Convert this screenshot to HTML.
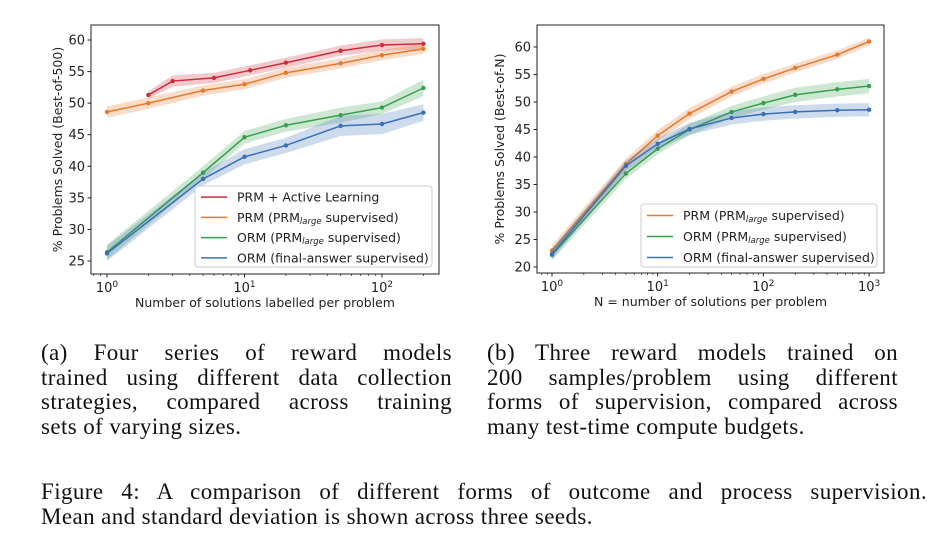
<!DOCTYPE html>
<html><head><meta charset="utf-8">
<style>
html,body{margin:0;padding:0;background:#fff;}
body{width:944px;height:548px;position:relative;overflow:hidden;font-family:"Liberation Serif",serif;}
svg{position:absolute;left:0;top:0;}
.cap{position:absolute;font-family:"Liberation Serif",serif;font-size:23px;letter-spacing:0.4px;color:#111;line-height:24.5px;}
.ln{text-align:justify;text-align-last:justify;white-space:nowrap;}
.ln.last{text-align-last:left;}
</style></head>
<body>
<svg id="chart" width="944" height="548" font-family="DejaVu Sans, sans-serif"></svg>
<div class="cap" style="left:41px;top:341px;width:411px;">
<div class="ln">(a) Four series of reward models</div>
<div class="ln">trained using different data collection</div>
<div class="ln">strategies, compared across training</div>
<div class="ln last">sets of varying sizes.</div>
</div>
<div class="cap" style="left:487px;top:341px;width:411px;">
<div class="ln">(b) Three reward models trained on</div>
<div class="ln">200 samples/problem using different</div>
<div class="ln">forms of supervision, compared across</div>
<div class="ln last">many test-time compute budgets.</div>
</div>
<div class="cap" style="left:41px;top:480px;width:886px;">
<div class="ln">Figure 4: A comparison of different forms of outcome and process supervision.</div>
<div class="ln last">Mean and standard deviation is shown across three seeds.</div>
</div>
<script>
// Left chart data
const leftX_AL = [2,3,6,11,20,50,100,200];
const leftY_AL = [51.3,53.5,54.0,55.2,56.4,58.3,59.2,59.4];
const leftX = [1,2,5,10,20,50,100,200];
const leftY_PRM = [48.6,50.0,52.0,53.0,54.8,56.3,57.6,58.6];
const leftX_ORM = [1,5,10,20,50,100,200];
const leftY_ORM = [26.4,39.0,44.6,46.5,48.1,49.3,52.4];
const leftY_FA = [26.2,38.0,41.5,43.3,46.4,46.7,48.5];
const leftSd_AL = [0.6,0.9,0.8,0.8,0.8,0.8,0.9,0.9];
const leftSd_PRM = [0.9,0.9,0.8,0.8,0.8,0.8,0.8,0.8];
const leftSd_ORM = [1.2,1.0,1.0,1.0,1.2,1.0,1.3];
const leftSd_FA = [1.2,1.0,1.2,1.2,1.6,1.6,1.3];
const leftYTicks = [25,30,35,40,45,50,55,60];
// Right chart data
const rightX = [1,5,10,20,50,100,200,500,1000];
const rightY_PRM = [23.0,38.7,43.9,47.9,51.9,54.2,56.2,58.6,61.0];
const rightY_ORM = [22.2,37.0,41.5,45.0,48.2,49.8,51.3,52.3,52.9];
const rightY_FA = [22.4,38.4,42.4,45.1,47.1,47.8,48.2,48.5,48.6];
const rightSd_PRM = [1.0,1.0,1.0,1.0,0.9,0.9,0.8,0.8,0.7];
const rightSd_ORM = [1.0,1.0,1.0,1.0,1.1,1.2,1.3,1.3,1.3];
const rightSd_FA = [1.0,1.0,1.0,1.1,1.2,1.2,1.2,1.2,1.2];
const rightYTicks = [20,25,30,35,40,45,50,55,60];

const C = {red:'#d02b3a',orange:'#e8792a',green:'#3a9e4f',blue:'#3a6fb8'};
const NS='http://www.w3.org/2000/svg';
const svg=document.getElementById('chart');
function el(tag,attrs,parent){const e=document.createElementNS(NS,tag);for(const k in attrs)e.setAttribute(k,attrs[k]);(parent||svg).appendChild(e);return e;}

function makeChart(cfg){
  const g=el('g',{});
  
  
  const sx=v=>cfg.x0px+Math.log10(v)*cfg.dec;
  const sy=v=>cfg.yRefPx-(v-cfg.yRef)*cfg.pxPerUnit;
  cfg.series.forEach(s=>{
    let up=s.x.map((x,i)=>sx(x)+','+sy(s.y[i]+s.sd[i]));
    let dn=s.x.map((x,i)=>sx(x)+','+sy(s.y[i]-s.sd[i])).reverse();
    const band=el('polygon',{points:up.concat(dn).join(' '),fill:s.color,'fill-opacity':0.25,stroke:'none'},g);
    
    
    const line=el('polyline',{points:s.x.map((x,i)=>sx(x)+','+sy(s.y[i])).join(' '),fill:'none',stroke:s.color,'stroke-width':1.5},g);
    
    
    s.x.forEach((x,i)=>{
      const p=el('circle',{cx:sx(x),cy:sy(s.y[i]),r:2.2,fill:s.color},g);
      
      
    });
  });
  const fr=el('rect',{x:cfg.L,y:cfg.T,width:cfg.R-cfg.L,height:cfg.B-cfg.T,fill:'none',stroke:'#222','stroke-width':1},g);
  
  
  cfg.yTicks.forEach(t=>{
    const y=sy(t);
    el('line',{x1:cfg.L-3.5,x2:cfg.L,y1:y,y2:y,stroke:'#222'},g);
    const tx=el('text',{x:cfg.L-6,y:y+4.5,'text-anchor':'end','font-size':13,fill:'#222'},g);
    tx.textContent=t;
    
    
  });
  for(let d=0;d<=cfg.maxDec;d++){
    const x=sx(Math.pow(10,d));
    el('line',{x1:x,x2:x,y1:cfg.B,y2:cfg.B+3.5,stroke:'#222'},g);
    const tx=el('text',{x:x,y:cfg.B+18,'text-anchor':'middle','font-size':13,fill:'#222'},g);
    
    
    tx.textContent='10';
    const sup=el('tspan',{dy:-5,'font-size':9},tx);sup.textContent=d;
  }
  for(let d=0;d<=cfg.maxDec;d++){for(let m=2;m<10;m++){const v=m*Math.pow(10,d);const x=sx(v);if(x>cfg.R||x<cfg.L)continue;
    el('line',{x1:x,x2:x,y1:cfg.B,y2:cfg.B+2,stroke:'#222','stroke-width':0.7},g);}}
  for(let m=2;m<10;m++){const x=sx(m/10);if(x>cfg.L) el('line',{x1:x,x2:x,y1:cfg.B,y2:cfg.B+2,stroke:'#222','stroke-width':0.7},g);}
  const xl=el('text',{x:(cfg.L+cfg.R)/2,y:cfg.B+33,'text-anchor':'middle','font-size':12.5,fill:'#222'},g);
  xl.textContent=cfg.xLabel;
  
  
  const yl=el('text',{x:0,y:0,'text-anchor':'middle','font-size':12.5,fill:'#222',transform:`translate(${cfg.yLabelX},${(cfg.T+cfg.B)/2}) rotate(-90)`},g);
  yl.textContent=cfg.yLabel;
  
  
  const lg=el('g',{},g);
  
  
  el('rect',{x:cfg.leg[0],y:cfg.leg[1],width:cfg.leg[2],height:cfg.leg[3],rx:3,fill:'#fff','fill-opacity':0.85,stroke:'#ccc'},lg);
  const step=cfg.leg[3]/cfg.series.length;
  cfg.series.forEach((s,i)=>{
    const y=cfg.leg[1]+step*(i+0.5)+1;
    const ln=el('line',{x1:cfg.leg[0]+6,x2:cfg.leg[0]+32,y1:y,y2:y,stroke:s.color,'stroke-width':1.5},lg);
    
    
    const t=el('text',{x:cfg.leg[0]+42,y:y+4.5,'font-size':12.5,fill:'#222'},lg);
    
    
    s.label.forEach(part=>{const ts=el('tspan',part.sub?{'font-size':8.5,'font-style':'italic',dy:2}:(part.after?{dy:-2}:{}),t);ts.textContent=part.t;});
  });
}
const lab=(a)=>[{t:a+' (PRM'},{t:'large',sub:true},{t:' supervised)',after:true}];
makeChart({name:'left-chart',L:91,R:439,T:25,B:274,x0px:107,dec:137.5,yRef:60,yRefPx:40,pxPerUnit:6.315,
  yTicks:leftYTicks,maxDec:2,xLabel:'Number of solutions labelled per problem',yLabel:'% Problems Solved (Best-of-500)',yLabelX:62,
  leg:[195,186,237,81],
  series:[
    {key:'prm-active-learning',x:leftX_AL,y:leftY_AL,sd:leftSd_AL,color:C.red,label:[{t:'PRM + Active Learning'}]},
    {key:'prm-large',x:leftX,y:leftY_PRM,sd:leftSd_PRM,color:C.orange,label:lab('PRM')},
    {key:'orm-large',x:leftX_ORM,y:leftY_ORM,sd:leftSd_ORM,color:C.green,label:lab('ORM')},
    {key:'orm-final-answer',x:leftX_ORM,y:leftY_FA,sd:leftSd_FA,color:C.blue,label:[{t:'ORM (final-answer supervised)'}]}
  ]});
makeChart({name:'right-chart',L:537,R:884,T:25,B:273,x0px:552,dec:105.7,yRef:60,yRefPx:47,pxPerUnit:5.5,
  yTicks:rightYTicks,maxDec:3,xLabel:'N = number of solutions per problem',yLabel:'% Problems Solved (Best-of-N)',yLabelX:504,
  leg:[641,204,236,63],
  series:[
    {key:'prm-large',x:rightX,y:rightY_PRM,sd:rightSd_PRM,color:C.orange,label:lab('PRM')},
    {key:'orm-large',x:rightX,y:rightY_ORM,sd:rightSd_ORM,color:C.green,label:lab('ORM')},
    {key:'orm-final-answer',x:rightX,y:rightY_FA,sd:rightSd_FA,color:C.blue,label:[{t:'ORM (final-answer supervised)'}]}
  ]});
</script>
</body></html>
